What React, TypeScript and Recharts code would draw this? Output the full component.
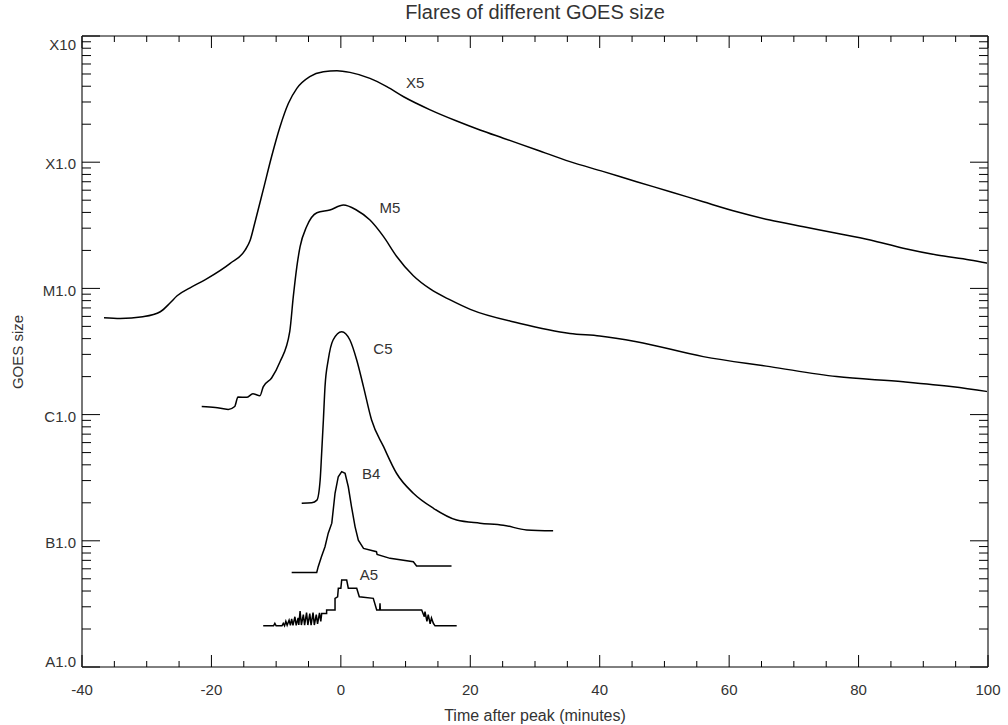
import { LineChart, Line, XAxis, YAxis, ReferenceDot } from "recharts";

// [minutes after peak, flux W/m^2]
const x5Flare: [number, number][] = [
  [-36.6, 5.86e-6], [-34.1, 5.78e-6], [-30.6, 5.97e-6], [-27.9, 6.53e-6], [-26.4, 7.66e-6],
  [-25.3, 8.75e-6], [-23.3, 1.01e-5], [-21.0, 1.17e-5], [-17.1, 1.58e-5], [-14.8, 2.01e-5],
  [-14.0, 2.42e-5], [-13.3, 3.3e-5], [-12.0, 6.03e-5], [-10.7, 1.11e-4], [-9.4, 1.91e-4],
  [-8.1, 2.93e-4], [-6.8, 3.85e-4], [-4.8, 4.77e-4], [-2.7, 5.21e-4], [-0.6, 5.31e-4],
  [1.4, 5.15e-4], [4.5, 4.62e-4], [7.1, 3.97e-4], [9.7, 3.3e-4], [13.8, 2.6e-4],
  [17.9, 2.12e-4], [21.5, 1.8e-4], [25.1, 1.55e-4], [30.3, 1.25e-4], [35.4, 1.01e-4],
  [40.6, 8.42e-5], [45.7, 7.0e-5], [50.9, 5.84e-5], [56.0, 4.86e-5], [61.2, 4.05e-5],
  [66.3, 3.48e-5], [71.5, 3.08e-5], [76.6, 2.74e-5], [81.8, 2.42e-5], [86.9, 2.08e-5],
  [92.1, 1.84e-5], [97.2, 1.68e-5], [100, 1.58e-5],
];

const m5Flare: [number, number][] = [
  [-21.5, 1.16e-6], [-19.4, 1.14e-6], [-17.4, 1.1e-6], [-16.4, 1.16e-6], [-15.9, 1.38e-6],
  [-14.55, 1.37e-6], [-13.6, 1.46e-6], [-12.5, 1.41e-6], [-12.0, 1.66e-6], [-10.7, 1.95e-6],
  [-9.4, 2.62e-6], [-7.9, 4.54e-6], [-7.35, 8.6e-6], [-6.8, 1.49e-5], [-6.3, 2.14e-5],
  [-5.3, 3.08e-5], [-3.7, 3.98e-5], [-1.7, 4.18e-5], [0.4, 4.58e-5], [2.4, 4.18e-5],
  [4.5, 3.48e-5], [6.6, 2.57e-5], [8.6, 1.8e-5], [11.2, 1.26e-5], [13.8, 9.9e-6],
  [16.9, 8.1e-6], [20.0, 6.82e-6], [27.7, 5.28e-6], [35.4, 4.4e-6], [40.0, 4.2e-6],
  [45.7, 3.78e-6], [56.0, 2.88e-6], [66.3, 2.4e-6], [76.6, 2.0e-6], [86.9, 1.82e-6],
  [94.6, 1.66e-6], [100, 1.52e-6],
];

const c5Flare: [number, number][] = [
  [-6.05, 1.98e-7], [-4.5, 2.0e-7], [-3.7, 2.1e-7], [-3.2, 3.03e-7], [-2.97, 4.93e-7],
  [-2.7, 9.06e-7], [-2.45, 1.66e-6], [-1.95, 2.71e-6], [-1.2, 3.9e-6], [0.13, 4.54e-6],
  [1.4, 3.9e-6], [2.45, 2.71e-6], [3.5, 1.66e-6], [4.75, 9.06e-7], [6.6, 5.57e-7],
  [8.6, 3.43e-7], [11.2, 2.38e-7], [14.3, 1.81e-7], [17.9, 1.46e-7], [21.5, 1.38e-7],
  [25.1, 1.33e-7], [28.7, 1.22e-7], [32.8, 1.2e-7],
];

const b4Flare: [number, number][] = [
  [-7.6, 5.62e-8], [-3.73, 5.62e-8], [-3.5, 6.24e-8], [-3.0, 7.48e-8], [-2.45, 8.97e-8],
  [-1.95, 1.15e-7], [-1.4, 1.38e-7], [-0.9, 2.38e-7], [-0.4, 3.22e-7], [0.13, 3.53e-7],
  [0.65, 3.43e-7], [1.15, 2.68e-7], [1.65, 1.86e-7], [2.2, 1.29e-7], [2.7, 1.01e-7],
  [3.5, 8.71e-8], [5.5, 8.2e-8], [5.6, 7.8e-8], [7.6, 7.26e-8], [11.2, 6.82e-8],
  [11.7, 6.31e-8], [17.1, 6.31e-8],
];

const a5Flare: [number, number][] = [
  [-12.0, 2.12e-8], [-10.4, 2.12e-8], [-10.2, 2.22e-8], [-10.0, 2.12e-8], [-9.1, 2.12e-8],
  [-8.9, 2.22e-8], [-8.7, 2.12e-8], [-8.5, 2.3e-8], [-8.3, 2.14e-8], [-8.0, 2.35e-8],
  [-7.8, 2.14e-8], [-7.6, 2.4e-8], [-7.4, 2.14e-8], [-7.1, 2.5e-8], [-6.9, 2.14e-8],
  [-6.6, 2.45e-8], [-6.5, 2.15e-8], [-6.3, 2.78e-8], [-6.1, 2.15e-8], [-5.8, 2.6e-8],
  [-5.6, 2.15e-8], [-5.3, 2.7e-8], [-5.1, 2.15e-8], [-4.8, 2.65e-8], [-4.6, 2.15e-8],
  [-4.3, 2.7e-8], [-4.1, 2.15e-8], [-3.8, 2.6e-8], [-3.6, 2.2e-8], [-3.3, 2.68e-8],
  [-3.1, 2.3e-8], [-2.96, 2.66e-8], [-2.2, 2.66e-8], [-2.2, 2.83e-8], [-0.9, 2.83e-8],
  [-0.9, 3.5e-8], [-0.5, 3.6e-8], [-0.39, 4.21e-8], [0.0, 4.21e-8], [0.13, 4.89e-8],
  [0.9, 4.89e-8], [1.15, 4.21e-8], [2.45, 4.21e-8], [2.85, 3.6e-8], [5.01, 3.5e-8],
  [5.54, 2.83e-8], [6.0, 2.83e-8], [6.05, 3.2e-8], [6.1, 2.83e-8], [12.49, 2.83e-8],
  [12.9, 2.5e-8], [13.0, 2.75e-8], [13.3, 2.3e-8], [13.5, 2.6e-8], [13.8, 2.2e-8],
  [14.0, 2.45e-8], [14.29, 2.22e-8], [14.55, 2.12e-8], [17.9, 2.12e-8],
];

const flareNames = ["X5", "M5", "C5", "B4", "A5"];
const labelTimes = [11.5, 7.6, 6.5, 4.7, 4.35];
const labelFlux = [4.3e-4, 4.4e-5, 3.31e-6, 3.38e-7, 5.36e-8];

const xMajorTicks = [-40, -20, 0, 20, 40, 60, 80, 100];
const xMinorTicks = [-35, -30, -25, -15, -10, -5, 5, 10, 15, 25, 30, 35, 45, 50, 55, 65, 70, 75, 85, 90, 95];
const yMajorTicks = [1e-8, 1e-7, 1e-6, 1e-5, 1e-4, 1e-3];
const yTickLabels = ["A1.0", "B1.0", "C1.0", "M1.0", "X1.0", "X10"];
const yMinorSteps = [2, 3, 4, 5, 6, 7, 8, 9];

const PLOT = { left: 82, top: 36, right: 988, bottom: 667 };
const FONT = "'Liberation Sans', Arial, Helvetica, sans-serif";
const TEXT = "#333";

const toPoints = (rows: [number, number][]) => rows.map(([t, v]) => ({ t, v }));

const xTicks = [...xMajorTicks, ...xMinorTicks].sort((a, b) => a - b);
const yTicks: number[] = [];
yMajorTicks.forEach((d, i) => {
  yTicks.push(d);
  if (i < yMajorTicks.length - 1) yMinorSteps.forEach((m) => yTicks.push(d * m));
});

const isMajorY = (v: number) => {
  const l = Math.log10(v);
  return Math.abs(l - Math.round(l)) < 1e-6;
};

function XTick(props: any) {
  const { x, payload, side } = props;
  const major = xMajorTicks.includes(payload.value);
  const len = major ? 12 : 6;
  const y0 = side === "bottom" ? PLOT.bottom : PLOT.top;
  const dir = side === "bottom" ? -1 : 1;
  return (
    <g>
      <line x1={x} x2={x} y1={y0} y2={y0 + dir * len} stroke="#000" strokeWidth={1} />
      {side === "bottom" && major && (
        <text x={x} y={PLOT.bottom + 23} dy="0.35em" textAnchor="middle" fontSize={15} fontFamily={FONT} fill={TEXT}>
          {payload.value}
        </text>
      )}
    </g>
  );
}

function YTick(props: any) {
  const { y, payload, side } = props;
  const major = isMajorY(payload.value);
  const len = major ? 18 : 9;
  const x0 = side === "left" ? PLOT.left : PLOT.right;
  const dir = side === "left" ? 1 : -1;
  const idx = yMajorTicks.findIndex((d) => Math.abs(Math.log10(d) - Math.log10(payload.value)) < 1e-6);
  const labelY = Math.min(Math.max(y + 2, PLOT.top + 9), PLOT.bottom - 5);
  return (
    <g>
      <line x1={x0} x2={x0 + dir * len} y1={y} y2={y} stroke="#000" strokeWidth={1} />
      {side === "left" && major && idx >= 0 && (
        <text x={PLOT.left - 6} y={labelY} dy="0.35em" textAnchor="end" fontSize={15} fontFamily={FONT} fill={TEXT}>
          {yTickLabels[idx]}
        </text>
      )}
    </g>
  );
}

const series = [x5Flare, m5Flare, c5Flare, b4Flare, a5Flare];
const curveTypes = ["monotone", "monotone", "monotone", "linear", "linear"] as const;

export default function App() {
  return (
    <div style={{ position: "absolute", left: 0, top: 0, width: 1008, height: 725, background: "#fff" }}>
      <LineChart width={1008} height={725} margin={{ top: 0, right: 0, bottom: 0, left: 0 }}>
        <XAxis
          dataKey="t"
          type="number"
          domain={[-40, 100]}
          allowDataOverflow
          ticks={xTicks}
          interval={0}
          height={58}
          tickSize={0}
          tickMargin={0}
          axisLine={{ stroke: "#000", strokeWidth: 1 }}
          tickLine={false}
          tick={(p: any) => <XTick {...p} side="bottom" />}
        />
        <XAxis
          xAxisId="top"
          orientation="top"
          dataKey="t"
          type="number"
          domain={[-40, 100]}
          allowDataOverflow
          ticks={xTicks}
          interval={0}
          height={36}
          tickSize={0}
          tickMargin={0}
          axisLine={{ stroke: "#000", strokeWidth: 1 }}
          tickLine={false}
          tick={(p: any) => <XTick {...p} side="top" />}
        />
        <YAxis
          scale="log"
          type="number"
          domain={[1e-8, 1e-3]}
          allowDataOverflow
          ticks={yTicks}
          interval={0}
          width={82}
          tickSize={0}
          tickMargin={0}
          axisLine={{ stroke: "#777", strokeWidth: 2 }}
          tickLine={false}
          tick={(p: any) => <YTick {...p} side="left" />}
        />
        <YAxis
          yAxisId="r"
          orientation="right"
          scale="log"
          type="number"
          domain={[1e-8, 1e-3]}
          allowDataOverflow
          ticks={yTicks}
          interval={0}
          width={20}
          tickSize={0}
          tickMargin={0}
          axisLine={{ stroke: "#777", strokeWidth: 2 }}
          tickLine={false}
          tick={(p: any) => <YTick {...p} side="right" />}
        />
        {series.map((rows, i) => (
          <Line
            key={flareNames[i]}
            data={toPoints(rows)}
            dataKey="v"
            type={curveTypes[i]}
            stroke="#000"
            strokeWidth={1.5}
            dot={false}
            isAnimationActive={false}
          />
        ))}
        {flareNames.map((name, i) => (
          <ReferenceDot
            key={"lbl-" + name}
            x={labelTimes[i]}
            y={labelFlux[i]}
            r={0}
            fill="none"
            stroke="none"
            label={{ value: name, position: "center", fontSize: 15, fontFamily: FONT, fill: TEXT }}
          />
        ))}
      </LineChart>
      <div
        style={{
          position: "absolute", left: PLOT.left, width: PLOT.right - PLOT.left, top: 2, textAlign: "center",
          fontFamily: FONT, fontSize: 20, lineHeight: "20px", color: TEXT,
        }}
      >
        Flares of different GOES size
      </div>
      <div
        style={{
          position: "absolute", left: PLOT.left, width: PLOT.right - PLOT.left, top: 707, textAlign: "center",
          fontFamily: FONT, fontSize: 16, lineHeight: "18px", color: TEXT,
        }}
      >
        Time after peak (minutes)
      </div>
      <div
        style={{
          position: "absolute", left: 18, top: 352, width: 0, height: 0,
        }}
      >
        <div
          style={{
            position: "absolute", left: 0, top: 0, transform: "translate(-50%, -50%) rotate(-90deg)",
            whiteSpace: "nowrap", fontFamily: FONT, fontSize: 15, lineHeight: "18px", color: TEXT,
          }}
        >
          GOES size
        </div>
      </div>
    </div>
  );
}
